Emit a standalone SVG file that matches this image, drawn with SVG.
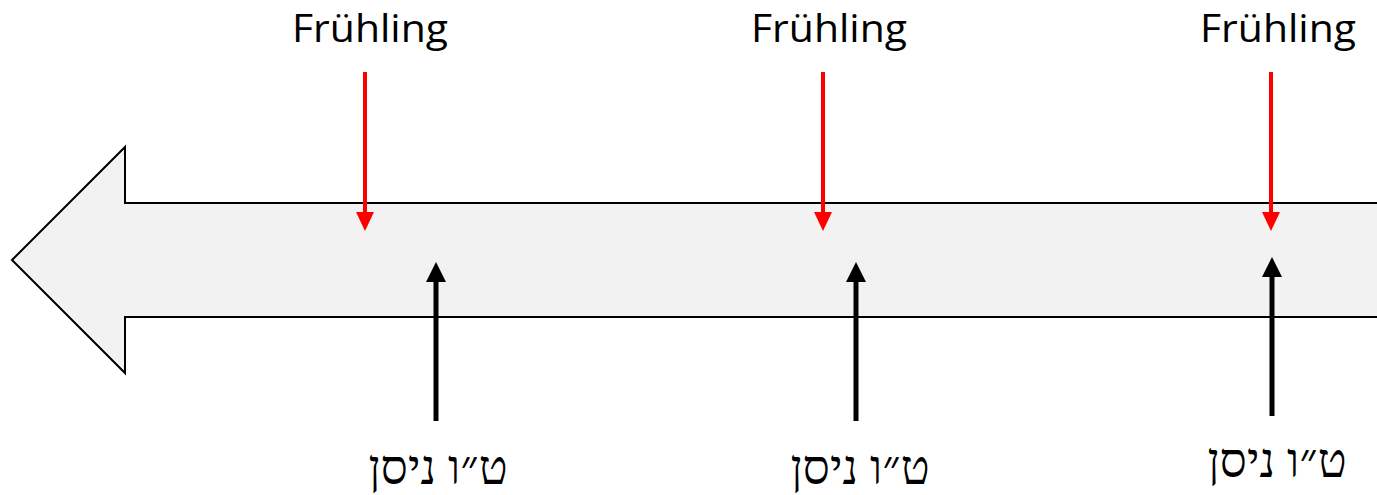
<svg xmlns="http://www.w3.org/2000/svg" width="1377" height="495" viewBox="0 0 1377 495">
<style>
.lat{font-family:"Open Sans","Liberation Sans",sans-serif;font-size:39px;fill:#000;text-anchor:middle}
.heb{font-family:"Liberation Serif","DejaVu Serif",serif;font-size:48px;fill:#000;text-anchor:middle}
.red{stroke:#ff0000;stroke-width:4;fill:none}
.blk{stroke:#000;stroke-width:5;fill:none}
.rh{fill:#ff0000}
.bh{fill:#000}
</style>
<rect width="1377" height="495" fill="#fff"/>
<g id="timeline">
<polygon points="1380,203 125,203 125,147 12,260 125,373 125,317 1380,317" fill="#f2f2f2" stroke="#000" stroke-width="2"/>
</g>
<g id="connectors">
<line class="red" x1="365" y1="72" x2="365" y2="214"/><polygon class="rh" points="356,212 374,212 365,231"/>
<line class="red" x1="823" y1="72" x2="823" y2="214"/><polygon class="rh" points="814,212 832,212 823,231"/>
<line class="red" x1="1271" y1="72" x2="1271" y2="214"/><polygon class="rh" points="1262,212 1280,212 1271,231"/>
<line class="blk" x1="436" y1="421" x2="436" y2="280"/><polygon class="bh" points="426,282 446,282 436,262"/>
<line class="blk" x1="856" y1="421" x2="856" y2="280"/><polygon class="bh" points="846,282 866,282 856,262"/>
<line class="blk" x1="1272" y1="416" x2="1272" y2="275"/><polygon class="bh" points="1262,277 1282,277 1272,257"/>
</g>
<g id="spring1"><text class="lat" x="370" y="42" textLength="156" lengthAdjust="spacingAndGlyphs">Frühling</text></g>
<g id="spring2"><text class="lat" x="829" y="42" textLength="156" lengthAdjust="spacingAndGlyphs">Frühling</text></g>
<g id="spring3"><text class="lat" x="1278" y="42" textLength="156" lengthAdjust="spacingAndGlyphs">Frühling</text></g>
<g id="nisan1"><text class="heb" x="438" y="484" direction="rtl">ט״ו ניסן</text></g>
<g id="nisan2"><text class="heb" x="860" y="484" direction="rtl">ט״ו ניסן</text></g>
<g id="nisan3"><text class="heb" x="1277" y="477" direction="rtl">ט״ו ניסן</text></g>
</svg>
